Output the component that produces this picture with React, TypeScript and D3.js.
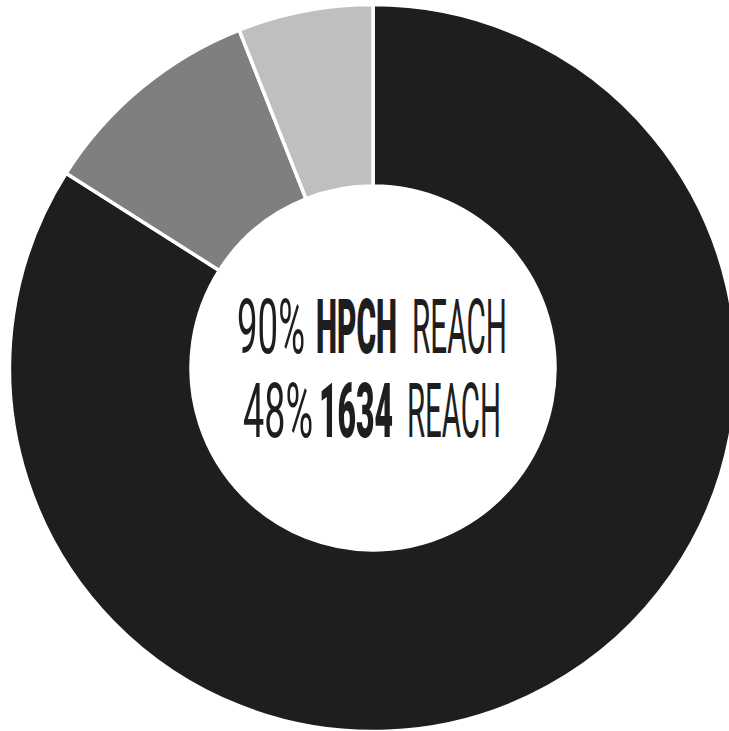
import React, { useLayoutEffect, useRef, useState } from "react";
import * as d3 from "d3";

// Audience reach breakdown (share of total, %)
const segmentNames = ["Core", "Secondary", "Other"];
const segmentShares = [84, 10, 6];
const segmentColors = ["#1e1e1e", "#7f7f7f", "#bfbfbf"];

// Centre caption, one entry per word: [text, bold]
const captionLine1: [string, boolean][] = [["90%", false], ["HPCH", true], ["REACH", false]];
const captionLine2: [string, boolean][] = [["48%", false], ["1634", true], ["REACH", false]];

const W = 729;
const H = 731;
const CX = 373;
const CY = 368;
const R_OUT = 363.5;
const R_IN = 182;

// word boxes [x, width] and baselines for the caption
const line1Boxes = [[237, 68], [316, 81], [412, 95]];
const line2Boxes = [[243, 70], [319, 74], [407, 94]];
const BASE1 = 353;
const BASE2 = 437;
const FONT_SIZE = 76;

type Word = { key: string; text: string; bold: boolean; x: number; w: number; base: number };

const words: Word[] = [
  ...captionLine1.map(([t, b], i) => ({
    key: "a" + i,
    text: t,
    bold: b,
    x: line1Boxes[i][0],
    w: line1Boxes[i][1],
    base: BASE1,
  })),
  ...captionLine2.map(([t, b], i) => ({
    key: "b" + i,
    text: t,
    bold: b,
    x: line2Boxes[i][0],
    w: line2Boxes[i][1],
    base: BASE2,
  })),
];

// A word squeezed horizontally into its box, keeping the full glyph height
function CondensedWord({ word }: { word: Word }) {
  const ref = useRef<SVGTextElement>(null);
  const [fit, setFit] = useState<{ sx: number; dx: number } | null>(null);

  useLayoutEffect(() => {
    const el = ref.current;
    if (!el) return;
    const box = el.getBBox();
    const natural = box.width || 1;
    setFit({ sx: word.w / natural, dx: -box.x });
  }, [word.text, word.w]);

  const sx = fit ? fit.sx : 1;
  const dx = fit ? fit.dx : 0;
  return (
    <g transform={`translate(${word.x},${word.base}) scale(${sx},1)`}>
      <text
        ref={ref}
        x={dx}
        y={0}
        fontFamily="Roboto, 'DejaVu Sans', sans-serif"
        fontWeight={word.bold ? 900 : 400}
        fontSize={FONT_SIZE}
        fill="#1e1e1e"
        visibility={fit ? "visible" : "hidden"}
      >
        {word.text}
      </text>
    </g>
  );
}

export default function App() {
  const pie = d3
    .pie<number>()
    .sort(null)
    .value((d) => d)
    .startAngle(0)
    .endAngle(2 * Math.PI);
  const arcs = pie(segmentShares);
  const arc = d3.arc<d3.PieArcDatum<number>>().innerRadius(R_IN).outerRadius(R_OUT);

  return (
    <svg
      width={W}
      height={H}
      style={{ position: "absolute", left: 0, top: 0, background: "#fff" }}
    >
      <g transform={`translate(${CX},${CY})`}>
        {arcs.map((a, i) => (
          <path
            key={segmentNames[i]}
            d={arc(a) || ""}
            fill={segmentColors[i]}
            stroke="#ffffff"
            strokeWidth={3.5}
          />
        ))}
      </g>
      {words.map((w) => (
        <CondensedWord key={w.key} word={w} />
      ))}
    </svg>
  );
}
